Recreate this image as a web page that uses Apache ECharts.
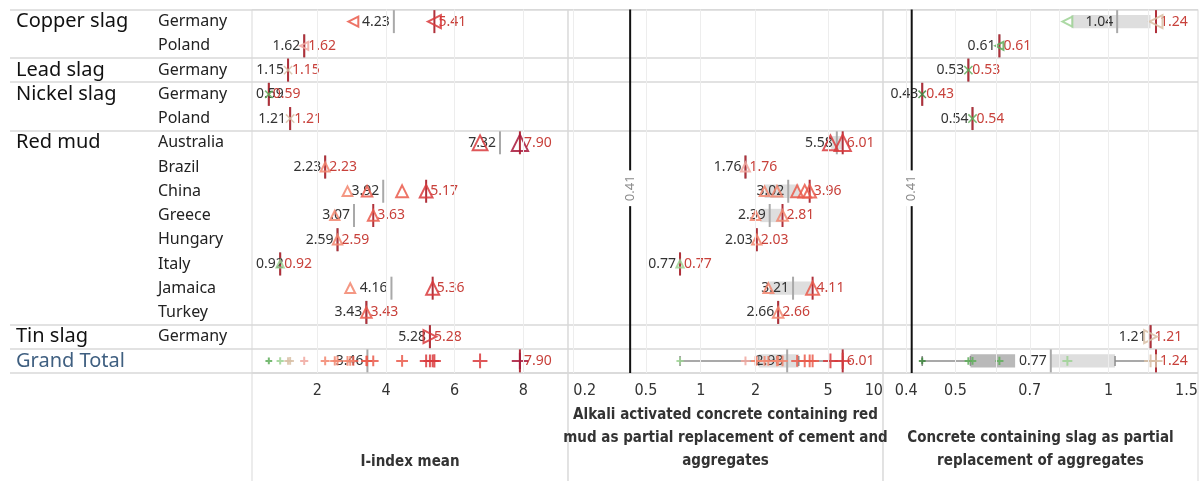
<!DOCTYPE html>
<html>
<head>
<meta charset="utf-8">
<script src="https://cdn.jsdelivr.net/npm/echarts@6/dist/echarts.min.js"></script>
<style>
  html, body { margin: 0; padding: 0; background: #fff; }
  #chart { width: 1202px; height: 481px; }
</style>
</head>
<body>
<div id="chart"></div>
<script>
// ROWS
const materials = ['Copper slag', 'Lead slag', 'Nickel slag', 'Red mud', 'Tin slag', 'Grand Total']
const rowMaterial = [0, 0, 1, 2, 2, 3, 3, 3, 3, 3, 3, 3, 3, 4, 5]
const rowCountry = ['Germany', 'Poland', 'Germany', 'Germany', 'Poland', 'Australia', 'Brazil', 'China',
  'Greece', 'Hungary', 'Italy', 'Jamaica', 'Turkey', 'Germany', '']
const totalRow = 14

// PANEL 1 - I-index mean  [row, value]
const iIndexPoints = [[0, 3.05], [0, 5.41], [1, 1.62], [2, 1.15], [3, 0.59], [4, 1.21], [5, 6.74], [5, 7.90],
  [6, 2.23], [7, 2.88], [7, 3.45], [7, 4.47], [7, 5.17], [8, 2.51], [8, 3.63], [9, 2.59], [10, 0.92],
  [11, 2.96], [11, 5.36], [12, 3.43], [13, 5.28]]
const iIndexMedian = [4.23, 1.62, 1.15, 0.59, 1.21, 7.32, 2.23, 3.92, 3.07, 2.59, 0.92, 4.16, 3.43, 5.28, 3.46]
const iIndexMax = [5.41, 1.62, 1.15, 0.59, 1.21, 7.90, 2.23, 5.17, 3.63, 2.59, 0.92, 5.36, 3.43, 5.28, 7.90]
const iIndexTicks = [2, 4, 6, 8]

// PANEL 2 - red mud concrete  [row, value, I-index]
const redMudPoints = [[5, 5.15, 6.74], [5, 6.01, 7.90], [6, 1.76, 2.23], [7, 2.24, 2.88], [7, 2.62, 3.45],
  [7, 3.38, 4.47], [7, 3.72, 5.17], [7, 3.96, 5.17], [8, 2.00, 2.51], [8, 2.81, 3.63], [9, 2.03, 2.59],
  [10, 0.77, 0.92], [11, 2.35, 2.96], [11, 4.11, 5.36], [12, 2.66, 3.43]]
const redMudMedian = [null, null, null, null, null, 5.58, 1.76, 3.02, 2.39, 2.03, 0.77, 3.21, 2.66, null, 2.98]
const redMudMax = [null, null, null, null, null, 6.01, 1.76, 3.96, 2.81, 2.03, 0.77, 4.11, 2.66, null, 6.01]
const redMudBoxLow = []
const redMudBoxHigh = [[5, 5.2, 5.95], [7, 2.24, 3.47], [8, 2.12, 2.78], [11, 2.38, 4.05], [14, 2.08, 3.45]]
const redMudWhiskers = [[14, 0.77, 2.08], [14, 3.45, 6.01]]
const redMudTicks = [0.2, 0.5, 1, 2, 5, 10]
const redMudGridlines = [0.2, 0.5, 1, 2, 5]

// PANEL 3 - slag concrete  [row, value, I-index]
const slagPoints = [[0, 0.83, 3.05], [0, 1.24, 5.41], [1, 0.61, 1.62], [2, 0.53, 1.15], [3, 0.43, 0.59],
  [4, 0.54, 1.21], [13, 1.21, 5.28]]
const slagMedian = [1.04, 0.61, 0.53, 0.43, 0.54, null, null, null, null, null, null, null, null, 1.21, 0.77]
const slagMax = [1.24, 0.61, 0.53, 0.43, 0.54, null, null, null, null, null, null, null, null, 1.21, 1.24]
const slagBoxLow = [[14, 0.535, 0.655]]
const slagBoxHigh = [[0, 0.845, 1.21], [14, 0.77, 1.03]]
const slagWhiskers = [[14, 0.43, 0.535], [14, 1.03, 1.24]]
const slagTicks = [0.4, 0.5, 0.7, 1, 1.5]
const slagGridlines = [0.4, 0.5, 0.6, 0.7, 0.8, 1, 1.2]

const referenceValue = 0.41

// STYLE
const fontUi = 'Noto Sans'
const fontAxis = '"DejaVu Sans Condensed", "Liberation Sans", sans-serif'
const sepColor = '#d9d9d9'
const colorStops = [0.5, 0.7, 1.0, 1.3, 2.0, 3.0, 4.5, 7.5]
const colorRamp = ['#3f8a3f', '#5fae5a', '#9dd294', '#d8bfa6', '#f0a8a0', '#f2866f', '#ea5a4b', '#d93a3c', '#a9173b']
const colorFor = v => colorRamp[colorStops.filter(s => v >= s).length]
const sizeFor = i => 6 + i * 1.3

const X_PATH = 'path://M0,0L10,10M10,0L0,10'
const PLUS_PATH = 'path://M5,0L5,10M0,5L10,5'
const groupShapes = [
  { symbol: 'triangle', rotate: 90, scale: 1, stroke: 2 },
  { symbol: X_PATH, rotate: 0, scale: 1.1, stroke: 1.5 },
  { symbol: X_PATH, rotate: 0, scale: 1.1, stroke: 1.5 },
  { symbol: 'triangle', rotate: 0, scale: 1, stroke: 2 },
  { symbol: 'triangle', rotate: -90, scale: 1, stroke: 2 },
  { symbol: PLUS_PATH, rotate: 0, scale: 1, stroke: 2 }
]

const rowKeys = rowCountry.map((c, i) => i + '|' + c)
const groupStarts = rowMaterial.map((m, i) => (i === 0 || m !== rowMaterial[i - 1] ? i : -1)).filter(i => i >= 0)

const TOP = 9.5
const BOTTOM = 108

const panels = [
  { left: 252, width: 316, axis: { type: 'value', min: 0.1, max: 9.3 }, ticks: iIndexTicks,
    gridlines: iIndexTicks, points: iIndexPoints, median: iIndexMedian, max: iIndexMax,
    boxLow: [], boxHigh: [], whiskers: [], reference: false,
    name: 'I-index mean', nameGap: 78 },
  { left: 568, width: 315, axis: { type: 'log', logBase: 10, min: 0.187, max: 10 }, ticks: redMudTicks,
    gridlines: redMudGridlines, points: redMudPoints, median: redMudMedian, max: redMudMax,
    boxLow: redMudBoxLow, boxHigh: redMudBoxHigh, whiskers: redMudWhiskers, reference: true,
    name: 'Alkali activated concrete containing red\nmud as partial replacement of cement and\naggregates', nameGap: 31 },
  { left: 883, width: 315, axis: { type: 'log', logBase: 10, min: 0.36, max: 1.5 }, ticks: slagTicks,
    gridlines: slagGridlines, points: slagPoints, median: slagMedian, max: slagMax,
    boxLow: slagBoxLow, boxHigh: slagBoxHigh, whiskers: slagWhiskers, reference: true,
    name: 'Concrete containing slag as partial\nreplacement of aggregates', nameGap: 54 }
]

const shapeItem = ([row, v, s]) => {
  const shape = groupShapes[rowMaterial[row]]
  return {
    value: [v, row],
    symbol: shape.symbol,
    symbolRotate: shape.rotate,
    symbolSize: sizeFor(s == null ? v : s) * shape.scale,
    itemStyle: { color: 'rgba(0,0,0,0)', borderColor: colorFor(v), borderWidth: shape.stroke, opacity: 0.85 }
  }
}

const boxSeries = (data, fill, xi, yi) => ({
  type: 'custom', xAxisIndex: xi, yAxisIndex: yi, data, z: 1, silent: true,
  encode: { x: [1, 2], y: 0 },
  renderItem: (params, api) => {
    const a = api.coord([api.value(1), api.value(0)])
    const b = api.coord([api.value(2), api.value(0)])
    const h = api.size([0, 1], [1, 0])[1] * 0.55
    return { type: 'rect', shape: { x: a[0], y: a[1] - h / 2, width: b[0] - a[0], height: h }, style: { fill } }
  }
})

const whiskerSeries = (data, xi, yi) => ({
  type: 'custom', xAxisIndex: xi, yAxisIndex: yi, data, z: 2, silent: true,
  encode: { x: [1, 2], y: 0 },
  renderItem: (params, api) => {
    const a = api.coord([api.value(1), api.value(0)])
    const b = api.coord([api.value(2), api.value(0)])
    const style = { stroke: '#8c8c8c', lineWidth: 1.5 }
    return {
      type: 'group',
      children: [
        { type: 'line', shape: { x1: a[0], y1: a[1], x2: b[0], y2: b[1] }, style },
        { type: 'line', shape: { x1: a[0], y1: a[1] - 5, x2: a[0], y2: a[1] + 5 }, style },
        { type: 'line', shape: { x1: b[0], y1: b[1] - 5, x2: b[0], y2: b[1] + 5 }, style }
      ]
    }
  }
})

// black reference line over the whole pane, value written upright in the middle
const referenceSeries = (xi, yi) => ({
  type: 'custom', xAxisIndex: xi, yAxisIndex: yi, data: [[referenceValue, 0]], z: 6, silent: true,
  encode: { x: 0, y: 1 },
  renderItem: (params, api) => {
    const rect = params.coordSys
    const x = api.coord([api.value(0), 0])[0]
    return {
      type: 'group',
      children: [
        { type: 'line', shape: { x1: x, y1: rect.y, x2: x, y2: rect.y + rect.height },
          style: { stroke: '#111', lineWidth: 2 } },
        { type: 'text', x, y: rect.y + rect.height / 2 - 3, rotation: Math.PI / 2, z2: 10,
          style: { text: api.value(0).toFixed(2), fill: '#8a8a8a', font: '13px "Noto Sans"',
            align: 'center', verticalAlign: 'middle', backgroundColor: '#fff', padding: [4, 5] } }
      ]
    }
  }
})

const markData = arr => arr.map((v, row) => (v == null ? null : [v, row])).filter(Boolean)

const grids = [{ left: 10, width: 242, top: TOP, bottom: BOTTOM, show: false, outerBoundsMode: 'none' }]
const xAxes = [{ gridIndex: 0, type: 'value', show: false }]
const yAxes = [
  {
    gridIndex: 0, type: 'category', position: 'left', inverse: true, data: rowKeys,
    axisLine: { show: false }, axisTick: { show: false },
    axisLabel: { inside: true, margin: 148, align: 'left', interval: 0, fontFamily: fontUi, fontSize: 16,
      color: '#222', formatter: (v, i) => rowCountry[i] },
    splitLine: { show: true, interval: i => groupStarts.includes(i), lineStyle: { color: sepColor, width: 1.5 } }
  },
  {
    gridIndex: 0, type: 'category', position: 'left', inverse: true, data: rowKeys,
    axisLine: { show: false }, axisTick: { show: false }, splitLine: { show: false },
    axisLabel: { inside: true, margin: 6, align: 'left', interval: 0, fontFamily: fontUi, fontSize: 20,
      padding: [7, 0, 0, 0],
      color: (v, i) => (rowMaterial[i] === 5 ? '#3f5f80' : '#111'),
      formatter: (v, i) => (groupStarts.includes(i) ? materials[rowMaterial[i]] : '') }
  }
]
const series = []

panels.forEach((panel, p) => {
  const xi = p + 1
  const yi = p + 2
  grids.push({ left: panel.left, width: panel.width, top: TOP, bottom: BOTTOM, show: true,
    borderColor: sepColor, borderWidth: 1, outerBoundsMode: 'none' })
  xAxes.push(Object.assign({
    gridIndex: xi,
    axisLine: { show: false }, axisTick: { show: false }, splitLine: { show: false },
    axisLabel: { customValues: panel.ticks, fontFamily: fontAxis, fontSize: 16, color: '#333', margin: 10,
      alignMinLabel: p === 1 ? 'left' : 'center', alignMaxLabel: p === 0 ? 'center' : 'right' },
    name: panel.name, nameLocation: 'middle', nameGap: panel.nameGap, nameMoveOverlap: false,
    nameTextStyle: { fontFamily: fontAxis, fontWeight: 'bold', fontSize: 15, color: '#333',
      lineHeight: 23, verticalAlign: 'top', align: 'center' }
  }, panel.axis))
  yAxes.push({
    gridIndex: xi, type: 'category', inverse: true, data: rowKeys,
    axisLine: { show: false }, axisTick: { show: false }, axisLabel: { show: false },
    splitLine: { show: true, interval: i => groupStarts.includes(i), lineStyle: { color: sepColor, width: 1.5 } }
  })

  // gridlines
  series.push({
    type: 'scatter', xAxisIndex: xi, yAxisIndex: yi, data: [], silent: true, z: 0,
    markLine: { silent: true, symbol: 'none', animation: false, label: { show: false },
      lineStyle: { color: '#ededed', width: 1, type: 'solid' },
      data: panel.gridlines.map(v => ({ xAxis: v })) }
  })

  if (panel.reference) series.push(referenceSeries(xi, yi))

  series.push(whiskerSeries(panel.whiskers, xi, yi))
  series.push(boxSeries(panel.boxLow, '#b9b9b9', xi, yi))
  series.push(boxSeries(panel.boxHigh, '#dedede', xi, yi))

  // median line + label
  series.push({
    type: 'scatter', xAxisIndex: xi, yAxisIndex: yi, silent: true, z: 3,
    data: markData(panel.median),
    symbol: 'rect', symbolSize: [2, 23], itemStyle: { color: '#a9a9a9', opacity: 1 },
    label: { show: true, position: 'left', distance: 3, formatter: d => d.value[0].toFixed(2),
      color: '#333', fontFamily: fontUi, fontSize: 14 },
    labelLayout: params => (params.labelRect.x < panel.left + 3 ? { dx: panel.left + 4 - params.labelRect.x } : {})
  })

  // max line + label
  series.push({
    type: 'scatter', xAxisIndex: xi, yAxisIndex: yi, silent: true, z: 3,
    data: markData(panel.max),
    symbol: 'rect', symbolSize: [2, 23], itemStyle: { color: '#b0303a', opacity: 1 },
    label: { show: true, position: 'right', distance: 3, formatter: d => d.value[0].toFixed(2),
      color: '#c8413b', fontFamily: fontUi, fontSize: 14 }
  })

  // sample shapes, and the same samples again on the grand total row
  const totals = panel.points.map(([row, v, s]) => [totalRow, v, s])
  series.push({
    type: 'scatter', xAxisIndex: xi, yAxisIndex: yi, silent: true, z: 4,
    data: panel.points.concat(totals).map(shapeItem)
  })
})

// lower frame lines under each panel
panels.forEach(panel => {
  const gi = grids.length
  grids.push({ left: panel.left, width: panel.width, top: 481 - BOTTOM, height: 130, show: true,
    borderColor: sepColor, borderWidth: 1, outerBoundsMode: 'none' })
  xAxes.push({ gridIndex: gi, type: 'value', show: false })
  yAxes.push({ gridIndex: gi, type: 'value', show: false })
})

const chart = echarts.init(document.getElementById('chart'))
chart.setOption({
  animation: false,
  backgroundColor: '#fff',
  grid: grids,
  xAxis: xAxes,
  yAxis: yAxes,
  series
})
</script>
</body>
</html>
